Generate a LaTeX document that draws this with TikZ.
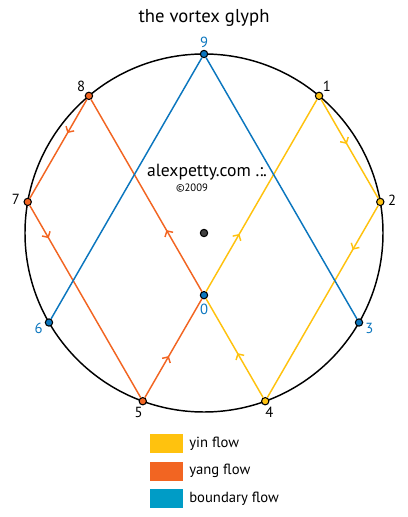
\documentclass[tikz,border=0pt]{standalone}
\usepackage{fontspec}
\setmainfont{PT Sans}
\usetikzlibrary{arrows.meta}
\usetikzlibrary{positioning}
\usetikzlibrary{decorations.markings}
\definecolor{yin}{HTML}{FFC20E}
\definecolor{yang}{HTML}{F26522}
\definecolor{boundary}{HTML}{0B76BE}
\definecolor{boundarybox}{HTML}{009CC6}
\definecolor{hub}{HTML}{404040}
\tikzset{
	vertex/.style={circle, draw, line width=0.8pt, inner sep=0pt, minimum size=5.5pt},
	numlabel/.style={font=\fontsize{11}{13}\selectfont, text=#1},
	flow/.style={line width=1.1pt, draw=#1},
	pointer/.style={postaction={decorate}, decoration={markings,
		mark=at position #1 with {\arrow{Straight Barb[length=3.2pt, width=7pt]}}}},
	legendbox/.style={rectangle, minimum width=24.75pt, minimum height=14.25pt, inner sep=0pt},
	legendtext/.style={font=\fontsize{11}{13}\selectfont, right=1pt of #1}
}

\begin{document}
\begin{tikzpicture}[x=0.75pt, y=0.75pt]
\useasboundingbox (-204,-284) rectangle (203,233);

\node[font=\fontsize{14}{16}\selectfont, anchor=base] (title) at (0,210) {the vortex glyph};

\draw[line width=1.1pt] (0,0) circle (179);

\foreach \n/\c/\t in {1/yin/black, 2/yin/black, 3/boundary/boundary, 4/yin/black,
	5/yang/black, 6/boundary/boundary, 7/yang/black, 8/yang/black, 9/boundary/boundary} {
	\pgfmathsetmacro\a{90-40*\n}
	\node[vertex, fill=\c] (p\n) at (\a:179) {};
	\node[numlabel=\t] (l\n) at (\a:191) {\n};
}

\node[vertex, fill=boundary] (p0) at (intersection of p1--p5 and p4--p8) {};
\node[numlabel=boundary, below=0pt of p0] (l0) {0};
\node[vertex, fill=hub] (hub) at (0,0) {};

\node[font=\fontsize{13.2}{15}\selectfont, anchor=base] (site) at (3,56) {alexpetty.com .:.};
\node[font=\fontsize{8}{9}\selectfont, anchor=base] (year) at (-12,41) {\textcopyright2009};

% yin flow
\draw[flow=yin, pointer=0.3] (p0) -- (p1);
\draw[flow=yin, pointer=0.45] (p1) -- (p2);
\draw[flow=yin, pointer=0.23] (p2) -- (p4);
\draw[flow=yin, pointer=0.45] (p4) -- (p0);

% yang flow
\draw[flow=yang, pointer=0.32] (p0) -- (p8);
\draw[flow=yang, pointer=0.34] (p8) -- (p7);
\draw[flow=yang, pointer=0.17] (p7) -- (p5);
\draw[flow=yang, pointer=0.42] (p5) -- (p0);

% boundary flow
\draw[flow=boundary] (p9) -- (p6);
\draw[flow=boundary] (p9) -- (p3);

% legend
\node[legendbox, fill=yin] (yinbox) at (-37.5,-210.5) {};
\node[legendbox, fill=yang, below=6pt of yinbox] (yangbox) {};
\node[legendbox, fill=boundarybox, below=6pt of yangbox] (boundarybox) {};
\node[legendtext=yinbox] (yintext) {yin flow};
\node[legendtext=yangbox] (yangtext) {yang flow};
\node[legendtext=boundarybox] (boundarytext) {boundary flow};

\end{tikzpicture}
\end{document}
